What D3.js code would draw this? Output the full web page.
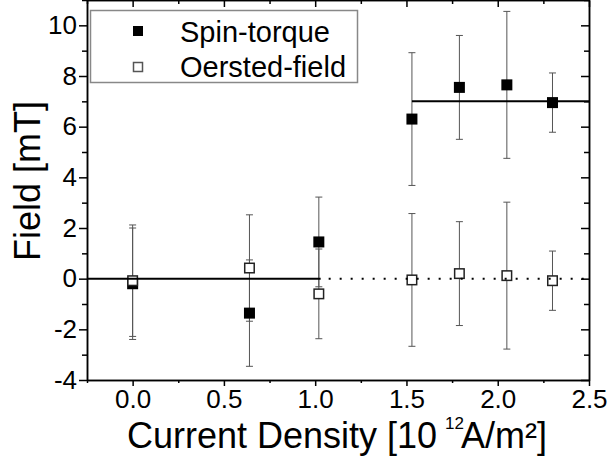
<!DOCTYPE html>
<meta charset="utf-8">
<style>
html, body {
  margin: 0;
  overflow: hidden;
  background: #fff;
}
text {
  font-family: "Liberation Sans", Arial, sans-serif;
  fill: #000;
}
.axis path, .axis line {
  stroke: #000;
  stroke-width: 1.5;
}
.axis text {
  font-size: 26px;
}
</style>
<body>
<script src="https://cdn.jsdelivr.net/npm/d3@7"></script>
<script>
var width = 608,
    height = 461;

// measured current densities [10^12 A/m²]
var current = [0.0, 0.64, 1.02, 1.53, 1.79, 2.05, 2.30];
// fields [mT]
var spinTorque = [-0.2, -1.36, 1.45, 6.3, 7.55, 7.65, 6.95];
var spinErr = [2.2, 2.1, 1.77, 2.62, 2.05, 2.9, 1.17];
var oersted = [-0.08, 0.42, -0.6, -0.05, 0.2, 0.12, -0.08];
var oerstedErr = [2.2, 2.1, 1.77, 2.62, 2.05, 2.9, 1.17];

// guide lines: below threshold zero, above threshold plateau
var zeroSolid = [[-0.25, 0], [1.03, 0]];
var zeroDotted = [[1.03, 0], [2.5, 0]];
var plateau = [[1.53, 7.0], [2.5, 7.0]];

var xTicks = [0.0, 0.5, 1.0, 1.5, 2.0, 2.5];
var xMinor = [-0.25, 0.25, 0.75, 1.25, 1.75, 2.25];
var yTicks = [-4, -2, 0, 2, 4, 6, 8, 10];
var yMinor = [-3, -1, 1, 3, 5, 7, 9, 11];

var legendNames = ["Spin-torque", "Oersted-field"];

var pLeft = 87, pRight = 589, pTop = 0, pBottom = 380;

var x = d3.scaleLinear().domain([-0.25, 2.5]).range([pLeft, pRight]);
var y = d3.scaleLinear().domain([-4, 11]).range([pBottom, pTop]);

var svg = d3.select("body").append("svg")
    .attr("width", width)
    .attr("height", height);

// axes: outward ticks on bottom/left, inward on top/right
svg.append("g").attr("class", "axis")
    .attr("transform", "translate(0," + pBottom + ")")
    .call(d3.axisBottom(x).tickValues(xTicks).tickSize(6).tickSizeOuter(0)
      .tickPadding(4).tickFormat(d3.format(".1f")));
svg.append("g").attr("class", "axis")
    .attr("transform", "translate(0," + pBottom + ")")
    .call(d3.axisBottom(x).tickValues(xMinor).tickSize(3).tickSizeOuter(0).tickFormat(""));

svg.append("g").attr("class", "axis")
    .attr("transform", "translate(" + pLeft + ",0)")
    .call(d3.axisLeft(y).tickValues(yTicks).tickSize(8).tickSizeOuter(0)
      .tickPadding(2).tickFormat(function(d) { return String(d); }));
svg.append("g").attr("class", "axis")
    .attr("transform", "translate(" + pLeft + ",0)")
    .call(d3.axisLeft(y).tickValues(yMinor).tickSize(5).tickSizeOuter(0).tickFormat(""));

svg.append("g").attr("class", "axis")
    .attr("transform", "translate(0," + pTop + ")")
    .call(d3.axisBottom(x).tickValues(xTicks).tickSize(7).tickSizeOuter(0).tickFormat(""));
svg.append("g").attr("class", "axis")
    .attr("transform", "translate(0," + pTop + ")")
    .call(d3.axisBottom(x).tickValues(xMinor).tickSize(4).tickSizeOuter(0).tickFormat(""));

svg.append("g").attr("class", "axis")
    .attr("transform", "translate(" + pRight + ",0)")
    .call(d3.axisLeft(y).tickValues(yTicks).tickSize(8).tickSizeOuter(0).tickFormat(""));
svg.append("g").attr("class", "axis")
    .attr("transform", "translate(" + pRight + ",0)")
    .call(d3.axisLeft(y).tickValues(yMinor).tickSize(5).tickSizeOuter(0).tickFormat(""));

// error bars
function errorBars(vals, errs) {
  var g = svg.append("g")
      .attr("stroke", "#555")
      .attr("stroke-width", 1)
      .attr("fill", "none");
  current.forEach(function(c, i) {
    var cx = x(c),
        y1 = y(vals[i] + errs[i]),
        y2 = y(vals[i] - errs[i]);
    g.append("line").attr("x1", cx).attr("x2", cx).attr("y1", y1).attr("y2", y2);
    g.append("line").attr("x1", cx - 3.5).attr("x2", cx + 3.5).attr("y1", y1).attr("y2", y1);
    g.append("line").attr("x1", cx - 3.5).attr("x2", cx + 3.5).attr("y1", y2).attr("y2", y2);
  });
}
errorBars(spinTorque, spinErr);
errorBars(oersted, oerstedErr);

// markers
var s = 11;
svg.append("g").selectAll("rect")
    .data(current)
  .enter().append("rect")
    .attr("x", function(d) { return x(d) - s / 2; })
    .attr("y", function(d, i) { return y(spinTorque[i]) - s / 2; })
    .attr("width", s)
    .attr("height", s)
    .attr("fill", "#000");

svg.append("g").selectAll("rect")
    .data(current)
  .enter().append("rect")
    .attr("x", function(d) { return x(d) - (s - 1.5) / 2; })
    .attr("y", function(d, i) { return y(oersted[i]) - (s - 1.5) / 2; })
    .attr("width", s - 1.5)
    .attr("height", s - 1.5)
    .attr("fill", "#fff")
    .attr("stroke", "#222")
    .attr("stroke-width", 1.5);

// guide lines
var line = d3.line()
    .x(function(d) { return x(d[0]); })
    .y(function(d) { return y(d[1]); });

svg.append("path").datum(zeroSolid).attr("d", line)
    .attr("stroke", "#000").attr("stroke-width", 2).attr("fill", "none");
svg.append("path").datum(zeroDotted).attr("d", line)
    .attr("stroke", "#000").attr("stroke-width", 2).attr("fill", "none")
    .attr("stroke-dasharray", "2,9").attr("stroke-dashoffset", -8);
svg.append("path").datum(plateau).attr("d", line)
    .attr("stroke", "#000").attr("stroke-width", 2).attr("fill", "none");

// legend
var legend = svg.append("g");
legend.append("rect")
    .attr("x", 90.5).attr("y", 10.5)
    .attr("width", 267).attr("height", 72)
    .attr("fill", "#fff")
    .attr("stroke", "#888")
    .attr("stroke-width", 1.5);

legend.append("rect")
    .attr("x", 138 - s / 2 + 0.5).attr("y", 31 - s / 2 + 0.5)
    .attr("width", s - 1).attr("height", s - 1)
    .attr("fill", "#000");
legend.append("rect")
    .attr("x", 138 - (s - 2) / 2).attr("y", 67 - (s - 2) / 2)
    .attr("width", s - 2).attr("height", s - 2)
    .attr("fill", "#fff").attr("stroke", "#555").attr("stroke-width", 1.5);

legend.selectAll("text.leg")
    .data(legendNames)
  .enter().append("text")
    .attr("class", "leg")
    .attr("x", 180)
    .attr("y", function(d, i) { return 41.5 + i * 35; })
    .style("font-size", "29px")
    .text(function(d) { return d; });

// axis titles
var xt = svg.append("text")
    .attr("x", 337)
    .attr("y", 448)
    .attr("text-anchor", "middle")
    .style("font-size", "36px");
xt.append("tspan").text("Current Density [10");
xt.append("tspan").attr("dy", -19).attr("dx", 8).style("font-size", "17px").text("12");
xt.append("tspan").attr("dy", 19).attr("dx", -3).text("A/m²]");

svg.append("text")
    .attr("transform", "translate(40,181) rotate(-90)")
    .attr("text-anchor", "middle")
    .style("font-size", "36px")
    .text("Field [mT]");
</script>
</body>
